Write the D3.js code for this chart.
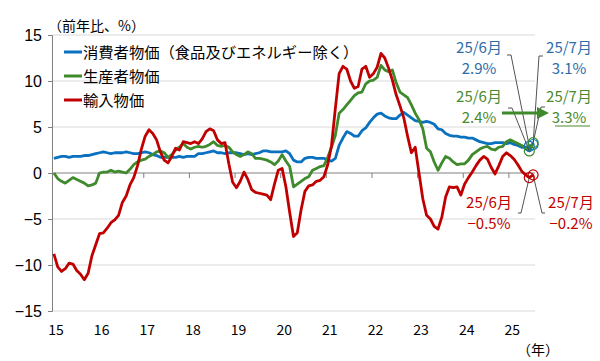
<!DOCTYPE html>
<html><head><meta charset="utf-8">
<script src="https://cdn.jsdelivr.net/npm/d3@7"></script>
<style>
body{margin:0;background:#fff;}
svg{display:block;}
</style></head>
<body><svg id="c" width="600" height="361"></svg>
<script>
const yearLabels = ["15","16","17","18","19","20","21","22","23","24","25"];
const yTicks = [15,10,5,0,-5,-10,-15];
const seriesNames = ["消費者物価（食品及びエネルギー除く）","生産者物価","輸入物価"];

const coreCPI = [
1.6,1.7,1.8,1.8,1.7,1.8,1.8,1.8,1.9,1.9,2.0,2.1,
2.2,2.3,2.2,2.1,2.2,2.2,2.2,2.3,2.2,2.1,2.1,2.2,
2.3,2.2,2.0,1.9,1.7,1.7,1.7,1.7,1.7,1.8,1.7,1.8,
1.8,1.8,2.1,2.1,2.2,2.3,2.4,2.2,2.2,2.1,2.2,2.2,
2.2,2.1,2.0,2.1,2.0,2.1,2.2,2.4,2.4,2.3,2.3,2.3,
2.3,2.4,2.1,1.4,1.2,1.2,1.6,1.7,1.7,1.6,1.6,1.6,
1.4,1.3,1.6,3.0,3.8,4.5,4.3,4.0,4.0,4.6,4.9,5.5,
6.0,6.4,6.5,6.2,6.0,5.9,5.9,6.3,6.6,6.3,6.0,5.7,
5.6,5.5,5.6,5.5,5.3,4.8,4.7,4.3,4.1,4.0,4.0,3.9,
3.9,3.8,3.8,3.6,3.4,3.3,3.2,3.2,3.3,3.3,3.3,3.2,
3.3,3.1,3.0,2.8,2.8,2.9,3.1];

const ppi = [
0.0,-0.6,-0.9,-1.1,-0.8,-0.5,-0.7,-0.9,-1.1,-1.4,-1.3,-1.1,
0.0,0.1,0.1,0.3,0.1,0.2,0.1,0.0,0.4,0.9,1.2,1.4,
1.5,1.8,2.0,2.3,2.4,2.2,1.7,2.0,2.5,2.8,3.2,2.8,
2.6,2.8,2.9,2.8,2.9,3.1,3.4,3.0,2.9,3.0,2.8,2.3,
2.0,1.8,2.0,2.3,2.1,1.6,1.6,1.5,1.4,1.2,0.9,1.3,
2.0,1.3,0.7,-1.5,-1.2,-0.9,-0.6,-0.4,0.3,0.5,0.7,0.8,
1.7,2.8,4.1,6.5,6.9,7.4,7.9,8.4,8.7,8.8,9.7,10.0,
10.1,10.4,11.7,11.2,11.0,11.2,9.8,8.8,8.5,8.2,7.4,6.5,
5.8,4.8,2.7,2.3,1.2,0.3,1.1,1.8,1.6,1.2,0.9,1.0,
1.0,1.4,2.0,2.3,2.6,2.8,2.9,2.6,2.5,2.8,2.9,3.4,
3.6,3.4,3.2,3.0,2.7,2.4,3.3];

const importPrices = [
-8.8,-10.2,-10.7,-10.4,-9.8,-9.9,-10.6,-11.0,-11.6,-10.9,-9.0,-7.8,
-6.6,-6.5,-6.0,-5.4,-5.1,-4.6,-3.2,-2.5,-1.3,-0.5,0.8,2.6,
4.0,4.7,4.3,3.6,2.3,1.4,1.1,1.8,2.7,2.5,3.4,3.3,
3.2,3.4,3.2,3.7,4.5,4.8,4.6,3.6,3.2,3.3,1.0,-1.0,
-1.6,-0.9,0.1,-0.7,-1.8,-2.1,-2.2,-2.3,-2.4,-2.9,-1.2,0.3,
0.5,-1.5,-4.3,-6.9,-6.5,-4.0,-2.0,-1.4,-1.3,-0.9,-0.8,-0.4,
0.9,3.0,7.0,10.8,11.6,11.3,10.0,9.2,9.4,11.3,11.6,10.4,
10.8,11.5,13.0,12.5,11.4,10.1,8.5,7.3,6.0,4.0,2.2,2.8,
0.0,-2.8,-4.6,-5.0,-5.8,-6.1,-4.8,-2.6,-1.5,-1.6,-1.5,-2.4,
-1.2,-0.5,0.1,0.8,1.4,1.8,1.5,0.6,-0.1,0.8,1.8,2.2,
1.9,1.5,0.9,0.2,-0.2,-0.5,-0.2];

const callouts = [
  {series:0, idx:125, label:"25/6月", value:"2.9%"},
  {series:0, idx:126, label:"25/7月", value:"3.1%"},
  {series:1, idx:125, label:"25/6月", value:"2.4%"},
  {series:1, idx:126, label:"25/7月", value:"3.3%"},
  {series:2, idx:125, label:"25/6月", value:"-0.5%"},
  {series:2, idx:126, label:"25/7月", value:"-0.2%"}
];

const data = [coreCPI, ppi, importPrices];
const colors = ["#0A70C0","#3F8A2C","#C00000"];
const textColors = ["#2E6CA8","#4A8A2E","#C00000"];
const n = coreCPI.length;

const svg = d3.select("#c");
const L = 52, R = 535, T = 35, B = 311;
const x = d3.scaleLinear().domain([0, n]).range([L, R]);
const y = d3.scaleLinear().domain([-15, 15]).range([B, T]);
const jp = "'Noto Sans CJK JP','Noto Sans',sans-serif";

// gridlines
svg.append("g").selectAll("line").data(yTicks.filter(d => d !== 0)).join("line")
  .attr("x1", L).attr("x2", R).attr("y1", d => y(d)).attr("y2", d => y(d))
  .attr("stroke", "#d9d9d9").attr("stroke-width", 1);

// y axis
const yAxis = d3.axisLeft(y).tickValues(yTicks).tickSize(4).tickPadding(6)
  .tickFormat(d => d < 0 ? "−" + Math.abs(d) : d);
const gy = svg.append("g").attr("transform", `translate(${L},0)`).call(yAxis);
gy.select(".domain").attr("stroke", "#808080");
gy.selectAll(".tick line").attr("stroke", "#808080");
gy.selectAll("text").attr("font-family", "'Liberation Sans',Arial,sans-serif")
  .attr("font-size", 16).attr("fill", "#000");

// zero line with year ticks
const yearIdx = yearLabels.map((d, i) => i * 12);
const xAxis = d3.axisBottom(x).tickValues(yearIdx).tickSize(5).tickFormat("");
const gx = svg.append("g").attr("transform", `translate(0,${y(0)})`).call(xAxis);
gx.select(".domain").attr("stroke", "#808080").attr("d", `M${L},0H${R}`);
gx.selectAll(".tick line").attr("stroke", "#808080");

// year labels
svg.append("g").selectAll("text").data(yearLabels).join("text")
  .attr("x", (d, i) => x(i * 12) + 4).attr("y", 335)
  .attr("text-anchor", "middle").attr("font-family", jp).attr("font-size", 14)
  .attr("fill", "#000").text(d => d);
svg.append("text").attr("x", 538).attr("y", 355).attr("text-anchor", "middle")
  .attr("font-family", jp).attr("font-size", 14).text("（年）");

svg.append("text").attr("x", 48).attr("y", 31).attr("font-family", jp)
  .attr("font-size", 14).text("（前年比、%）");

// lines
const line = d3.line().x((d, i) => x(i + 0.5)).y(d => y(d));
data.forEach((s, k) => {
  svg.append("path").datum(s).attr("d", line).attr("fill", "none")
    .attr("stroke", colors[k]).attr("stroke-width", 2.8).attr("stroke-linejoin", "round");
});

// legend
const lg = svg.append("g");
seriesNames.forEach((nm, k) => {
  const yy = 52 + k * 24;
  lg.append("line").attr("x1", 64).attr("x2", 82).attr("y1", yy).attr("y2", yy)
    .attr("stroke", colors[k]).attr("stroke-width", 3);
  lg.append("text").attr("x", 83).attr("y", yy + 5.5).attr("font-family", jp)
    .attr("font-size", 15.3).attr("fill", "#000").text(nm);
});

// callout leader lines: [label anchor start, elbow]
const leaders = [
  [[507, 55], [511, 55]],
  [[543, 56], [539, 56]],
  [[508, 108], [512, 108]],
  [[545, 107], [541, 107]],
  [[518, 213], [521, 213]],
  [[545, 213], [542, 213]]
];
callouts.forEach((c, j) => {
  const cx = x(c.idx + 0.5), cy = y(data[c.series][c.idx]);
  const [a, b] = leaders[j];
  svg.append("polyline").attr("points", `${a} ${b} ${cx},${cy}`)
    .attr("fill", "none").attr("stroke", "#404040").attr("stroke-width", 0.9);
});
callouts.forEach(c => {
  const cx = x(c.idx + 0.5), cy = y(data[c.series][c.idx]);
  svg.append("circle").attr("cx", cx).attr("cy", cy).attr("r", 5)
    .attr("fill", "none").attr("stroke", colors[c.series]).attr("stroke-width", 1.2);
});

// callout texts
const labelPos = [[479, 53], [569, 53], [479, 102], [569, 102], [489, 208], [571, 208]];
callouts.forEach((c, j) => {
  const [tx, ty] = labelPos[j];
  const g = svg.append("g").attr("font-family", jp).attr("font-size", 15)
    .attr("fill", textColors[c.series]).attr("text-anchor", "middle");
  g.append("text").attr("x", tx).attr("y", ty).text(c.label);
  g.append("text").attr("x", tx).attr("y", ty + 21).text(c.value.replace("-", "−"));
});
// underline under 3.3%
svg.append("line").attr("x1", 555).attr("x2", 590).attr("y1", 126).attr("y2", 126)
  .attr("stroke", textColors[1]).attr("stroke-width", 1);

// green arrow
const defs = svg.append("defs");
defs.append("marker").attr("id", "ah").attr("viewBox", "0 0 10 10").attr("refX", 5).attr("refY", 5)
  .attr("markerWidth", 4).attr("markerHeight", 4).attr("orient", "auto")
  .append("path").attr("d", "M0,0L10,5L0,10z").attr("fill", colors[1]);
svg.append("line").attr("x1", 502).attr("x2", 543).attr("y1", 113).attr("y2", 113)
  .attr("stroke", colors[1]).attr("stroke-width", 3).attr("marker-end", "url(#ah)");
</script></body></html>
